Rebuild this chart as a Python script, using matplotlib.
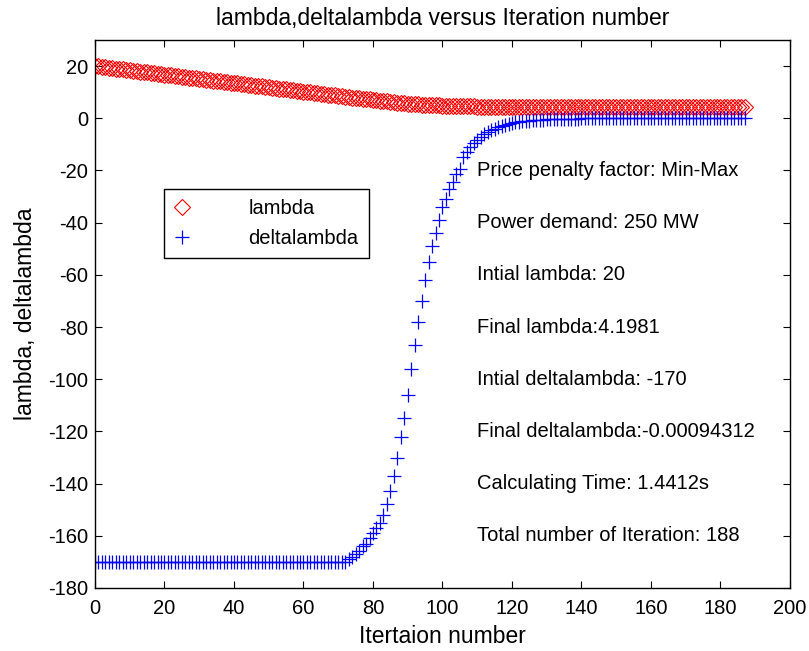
import matplotlib
matplotlib.use("Agg")
import matplotlib.pyplot as plt
import numpy as np

plt.rcParams['font.family'] = ['Liberation Sans', 'DejaVu Sans']
plt.rcParams['axes.unicode_minus'] = False

# lambda value at every iteration
lam = [
    20.00, 19.84, 19.67, 19.51, 19.35, 19.19, 19.02, 18.86, 18.70, 18.53,
    18.37, 18.21, 18.04, 17.88, 17.72, 17.56, 17.39, 17.23, 17.07, 16.90,
    16.74, 16.58, 16.41, 16.25, 16.09, 15.93, 15.76, 15.60, 15.44, 15.27,
    15.11, 14.95, 14.78, 14.62, 14.46, 14.30, 14.13, 13.97, 13.81, 13.64,
    13.48, 13.32, 13.15, 12.99, 12.83, 12.67, 12.50, 12.34, 12.18, 12.01,
    11.85, 11.69, 11.52, 11.36, 11.20, 11.04, 10.87, 10.71, 10.55, 10.38,
    10.22, 10.06, 9.89, 9.73, 9.57, 9.41, 9.24, 9.08, 8.92, 8.75,
    8.59, 8.43, 8.26, 8.10, 7.95, 7.80, 7.65, 7.50, 7.35, 7.20,
    7.05, 6.90, 6.75, 6.60, 6.45, 6.30, 6.15, 6.00, 5.88, 5.76,
    5.65, 5.55, 5.45, 5.35, 5.27, 5.19, 5.12, 5.05, 4.99, 4.93,
    4.88, 4.83, 4.78, 4.74, 4.70, 4.66, 4.62, 4.59, 4.56, 4.53,
    4.50, 4.48, 4.46, 4.44, 4.42, 4.40, 4.38, 4.37, 4.35, 4.34,
    4.33, 4.32, 4.31, 4.30, 4.29, 4.28, 4.27, 4.26, 4.25, 4.25,
    4.24, 4.23, 4.23, 4.22, 4.22, 4.21, 4.21, 4.21, 4.20, 4.20,
    4.20, 4.20, 4.20, 4.20, 4.20, 4.20, 4.20, 4.20, 4.20, 4.20,
    4.20, 4.20, 4.20, 4.20, 4.20, 4.20, 4.20, 4.20, 4.20, 4.20,
    4.20, 4.20, 4.20, 4.20, 4.20, 4.20, 4.20, 4.20, 4.20, 4.20,
    4.20, 4.20, 4.20, 4.20, 4.20, 4.20, 4.20, 4.20, 4.20, 4.20,
    4.20, 4.20, 4.20, 4.20, 4.20, 4.20, 4.20, 4.1981,
]

# deltalambda at every iteration
dlam = [
    -170, -170, -170, -170, -170, -170, -170, -170, -170, -170,
    -170, -170, -170, -170, -170, -170, -170, -170, -170, -170,
    -170, -170, -170, -170, -170, -170, -170, -170, -170, -170,
    -170, -170, -170, -170, -170, -170, -170, -170, -170, -170,
    -170, -170, -170, -170, -170, -170, -170, -170, -170, -170,
    -170, -170, -170, -170, -170, -170, -170, -170, -170, -170,
    -170, -170, -170, -170, -170, -170, -170, -170, -170, -170,
    -170, -170, -170, -169, -168, -167, -166, -164, -163, -161,
    -159, -157, -155, -152, -148, -143, -137, -130, -122, -115,
    -106, -96, -87, -78, -70, -62, -55, -49, -44, -39,
    -34, -31, -27, -24.5, -21.5, -19.4, -15.0, -13.0, -11.2, -9.6,
    -8.3, -7.2, -6.2, -5.3, -4.6, -4.0, -3.4, -2.9, -2.5, -2.2,
    -1.9, -1.6, -1.4, -1.2, -1.0, -0.9, -0.77, -0.66, -0.57, -0.49,
    -0.42, -0.36, -0.31, -0.27, -0.23, -0.20, -0.17, -0.15, -0.13, -0.11,
    -0.09, -0.08, -0.07, -0.06, -0.05, -0.05, -0.04, -0.04, -0.03, -0.03,
    -0.02, -0.02, -0.02, -0.02, -0.02, -0.02, -0.02, -0.02, -0.02, -0.02,
    -0.01, -0.01, -0.01, -0.01, -0.01, -0.01, -0.01, -0.01, -0.01, -0.01,
    -0.01, -0.01, -0.01, -0.01, -0.01, -0.005, -0.005, -0.005, -0.005, -0.005,
    -0.005, -0.005, -0.005, -0.005, -0.005, -0.005, -0.005, -0.00094,
]

iters = np.arange(len(lam))

info = [
    "Price penalty factor: Min-Max",
    "Power demand: 250 MW",
    "Intial lambda: 20",
    "Final lambda:4.1981",
    "Intial deltalambda: -170",
    "Final deltalambda:-0.00094312",
    "Calculating Time: 1.4412s",
    "Total number of Iteration: 188",
]
info_y = [-20, -40, -60, -80, -100, -120, -140, -160]

fig = plt.figure(figsize=(8.09, 6.51), dpi=100)
ax = fig.add_axes([0.1174, 0.0968, 0.8591, 0.8418])

ax.plot(iters, lam, linestyle='none', marker='D', markersize=8.5,
        markerfacecolor='none', markeredgecolor='red', markeredgewidth=0.8,
        label='lambda')
ax.plot(iters, dlam, linestyle='none', marker='+', markersize=10,
        color='blue', markeredgewidth=0.9, label='deltalambda')

for t, yy in zip(info, info_y):
    ax.text(110, yy, t, fontsize=14.5, ha='left', va='center')

ax.set_xlim(0, 200)
ax.set_ylim(-180, 30)
ax.set_xticks(np.arange(0, 201, 20))
ax.set_yticks(np.arange(-180, 21, 20))
ax.tick_params(direction='in', length=5, width=0.8, top=True, right=True,
               labelsize=14.5)
ax.tick_params(axis='x', pad=8)
ax.tick_params(axis='y', pad=5)
for s in ax.spines.values():
    s.set_linewidth(1.0)

ax.set_title('lambda,deltalambda versus Iteration number', fontsize=16.5, pad=10.5)
ax.set_xlabel('Itertaion number', fontsize=16.5)
ax.set_ylabel('lambda, deltalambda', fontsize=16.5)
ax.xaxis.set_label_coords(0.5, -0.067)
ax.yaxis.set_label_coords(-0.083, 0.5)

leg = ax.legend(loc='upper left', bbox_to_anchor=(0.099, 0.728),
                borderaxespad=0, numpoints=1, fontsize=14.5, fancybox=False,
                framealpha=1, edgecolor='black', borderpad=0.5,
                handlelength=0.8, handletextpad=2.9, labelspacing=0.55)
leg.get_frame().set_linewidth(1.0)

fig.savefig('out.png', dpi=100)
